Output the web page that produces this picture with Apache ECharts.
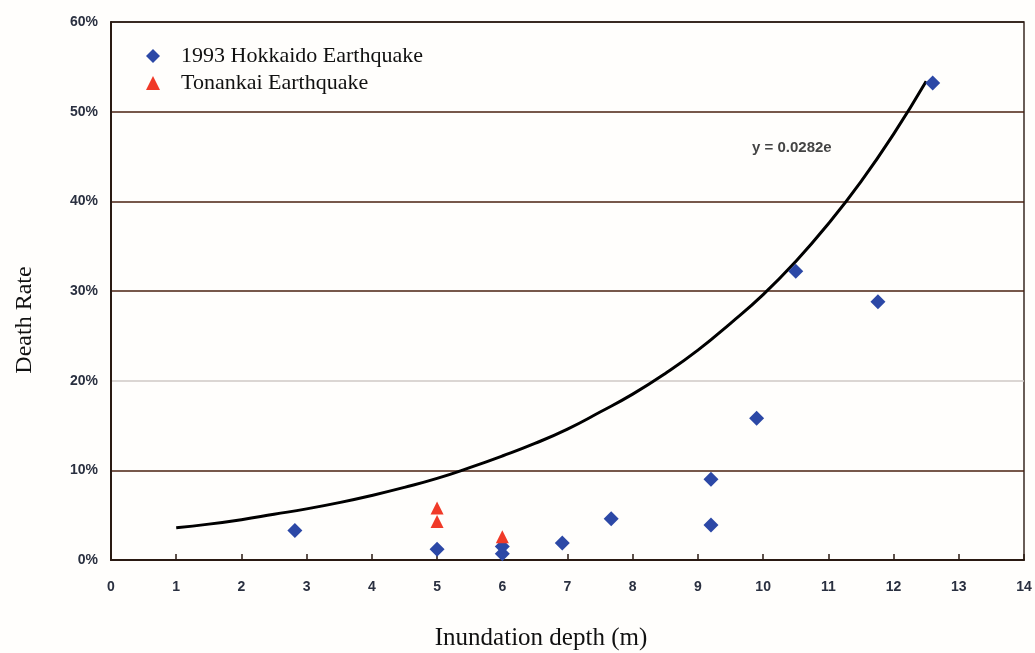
<!DOCTYPE html>
<html>
<head>
<meta charset="utf-8">
<script src="https://cdn.jsdelivr.net/npm/echarts@6/dist/echarts.min.js"></script>
<style>html,body{margin:0;padding:0;background:#fff;}#c{width:1035px;height:653px;}</style>
</head>
<body>
<div id="c"></div>
<script>
// Data
const hokkaidoDepth = [2.82, 5.0, 6.0, 6.0, 6.92, 7.67, 9.2, 9.2, 9.9, 10.5, 11.76, 12.6];
const hokkaidoRate  = [3.3, 1.2, 0.7, 1.5, 1.9, 4.6, 3.9, 9.0, 15.8, 32.2, 28.8, 53.2];
const tonankaiDepth = [5.0, 5.0, 6.0];
const tonankaiRate  = [5.8, 4.3, 2.6];
// Trend curve values
const trendDepth = [1, 1.5, 2, 2.5, 3, 3.5, 4, 4.5, 5, 5.5, 6, 6.5, 7, 7.5, 8, 8.5, 9, 9.5, 10, 10.5, 11, 11.5, 12, 12.5];
const trendRate  = [3.6, 4.0, 4.5, 5.1, 5.7, 6.4, 7.2, 8.1, 9.1, 10.3, 11.6, 13.0, 14.6, 16.5, 18.5, 20.8, 23.4, 26.4, 29.6, 33.3, 37.5, 42.2, 47.5, 53.4];
const xTicks = [0, 1, 2, 3, 4, 5, 6, 7, 8, 9, 10, 11, 12, 13, 14];
const yTicks = [0, 10, 20, 30, 40, 50, 60];
const equationText = 'y = 0.0282e';
const xTitle = 'Inundation depth (m)';
const yTitle = 'Death Rate';

const zip = (a, b) => a.map((v, i) => [v, b[i]]);

const chart = echarts.init(document.getElementById('c'));
chart.setOption({
  backgroundColor: '#fffefc',
  animation: false,
  grid: {
    left: 111, right: 11, top: 22, bottom: 93,
    show: true, borderColor: '#3a2a22', borderWidth: 1.5, backgroundColor: 'transparent'
  },
  legend: {
    orient: 'vertical',
    left: 141, top: 40,
    itemGap: 5,
    itemWidth: 14, itemHeight: 14,
    data: [
      {name: '1993 Hokkaido Earthquake', icon: 'diamond'},
      {name: 'Tonankai Earthquake', icon: 'triangle'}
    ],
    textStyle: {fontFamily: 'Liberation Serif', fontSize: 22, color: '#111', padding: [0, 0, 0, 16]}
  },
  xAxis: {
    type: 'value',
    min: xTicks[0], max: xTicks[xTicks.length - 1], interval: 1,
    axisLine: {show: true, lineStyle: {color: '#2a1a12', width: 2}},
    axisTick: {show: true, inside: true, length: 6, lineStyle: {color: '#2a1a12', width: 1.5}},
    axisLabel: {fontFamily: 'Liberation Sans Narrow, Liberation Sans', fontWeight: 'bold', fontSize: 14, color: '#2a3040', margin: 20},
    splitLine: {show: false}
  },
  yAxis: {
    type: 'value',
    min: yTicks[0], max: yTicks[yTicks.length - 1], interval: 10,
    axisLine: {show: true, lineStyle: {color: '#2a1a12', width: 2}},
    axisTick: {show: false},
    axisLabel: {fontFamily: 'Liberation Sans Narrow, Liberation Sans', fontWeight: 'bold', fontSize: 14, color: '#2a3040', margin: 13, formatter: '{value}%', padding: [4, 0, 0, 0]},
    splitLine: {show: true, lineStyle: {color: ['#2a1a12', '#4a2010', '#cfc8c6', '#4a2010', '#4a2010', '#4a2010', '#2a1a12'], width: 1.5}}
  },
  graphic: [
    {
      type: 'text', left: 752, top: 140,
      style: {text: equationText, font: 'bold 15px "Liberation Sans"', fill: '#444'}
    },
    {
      type: 'text', x: 541, y: 638,
      style: {text: xTitle, font: '25px "Liberation Serif"', fill: '#111', align: 'center', verticalAlign: 'middle'}
    },
    {
      type: 'text', x: 25, y: 320, rotation: Math.PI / 2,
      style: {text: yTitle, font: '24px "Liberation Serif"', fill: '#111', align: 'center', verticalAlign: 'middle'}
    }
  ],
  series: [
    {
      name: 'Trend', type: 'line', data: zip(trendDepth, trendRate),
      smooth: 0.5, showSymbol: false, symbol: 'none',
      lineStyle: {color: '#000', width: 3}, z: 3
    },
    {
      name: '1993 Hokkaido Earthquake', type: 'scatter', data: zip(hokkaidoDepth, hokkaidoRate),
      symbol: 'diamond', symbolSize: 15, itemStyle: {color: '#2c48a6', opacity: 1}, z: 4
    },
    {
      name: 'Tonankai Earthquake', type: 'scatter', data: zip(tonankaiDepth, tonankaiRate),
      symbol: 'triangle', symbolSize: 13, itemStyle: {color: '#f03a28', opacity: 1}, z: 5
    }
  ]
});
</script>
</body>
</html>
